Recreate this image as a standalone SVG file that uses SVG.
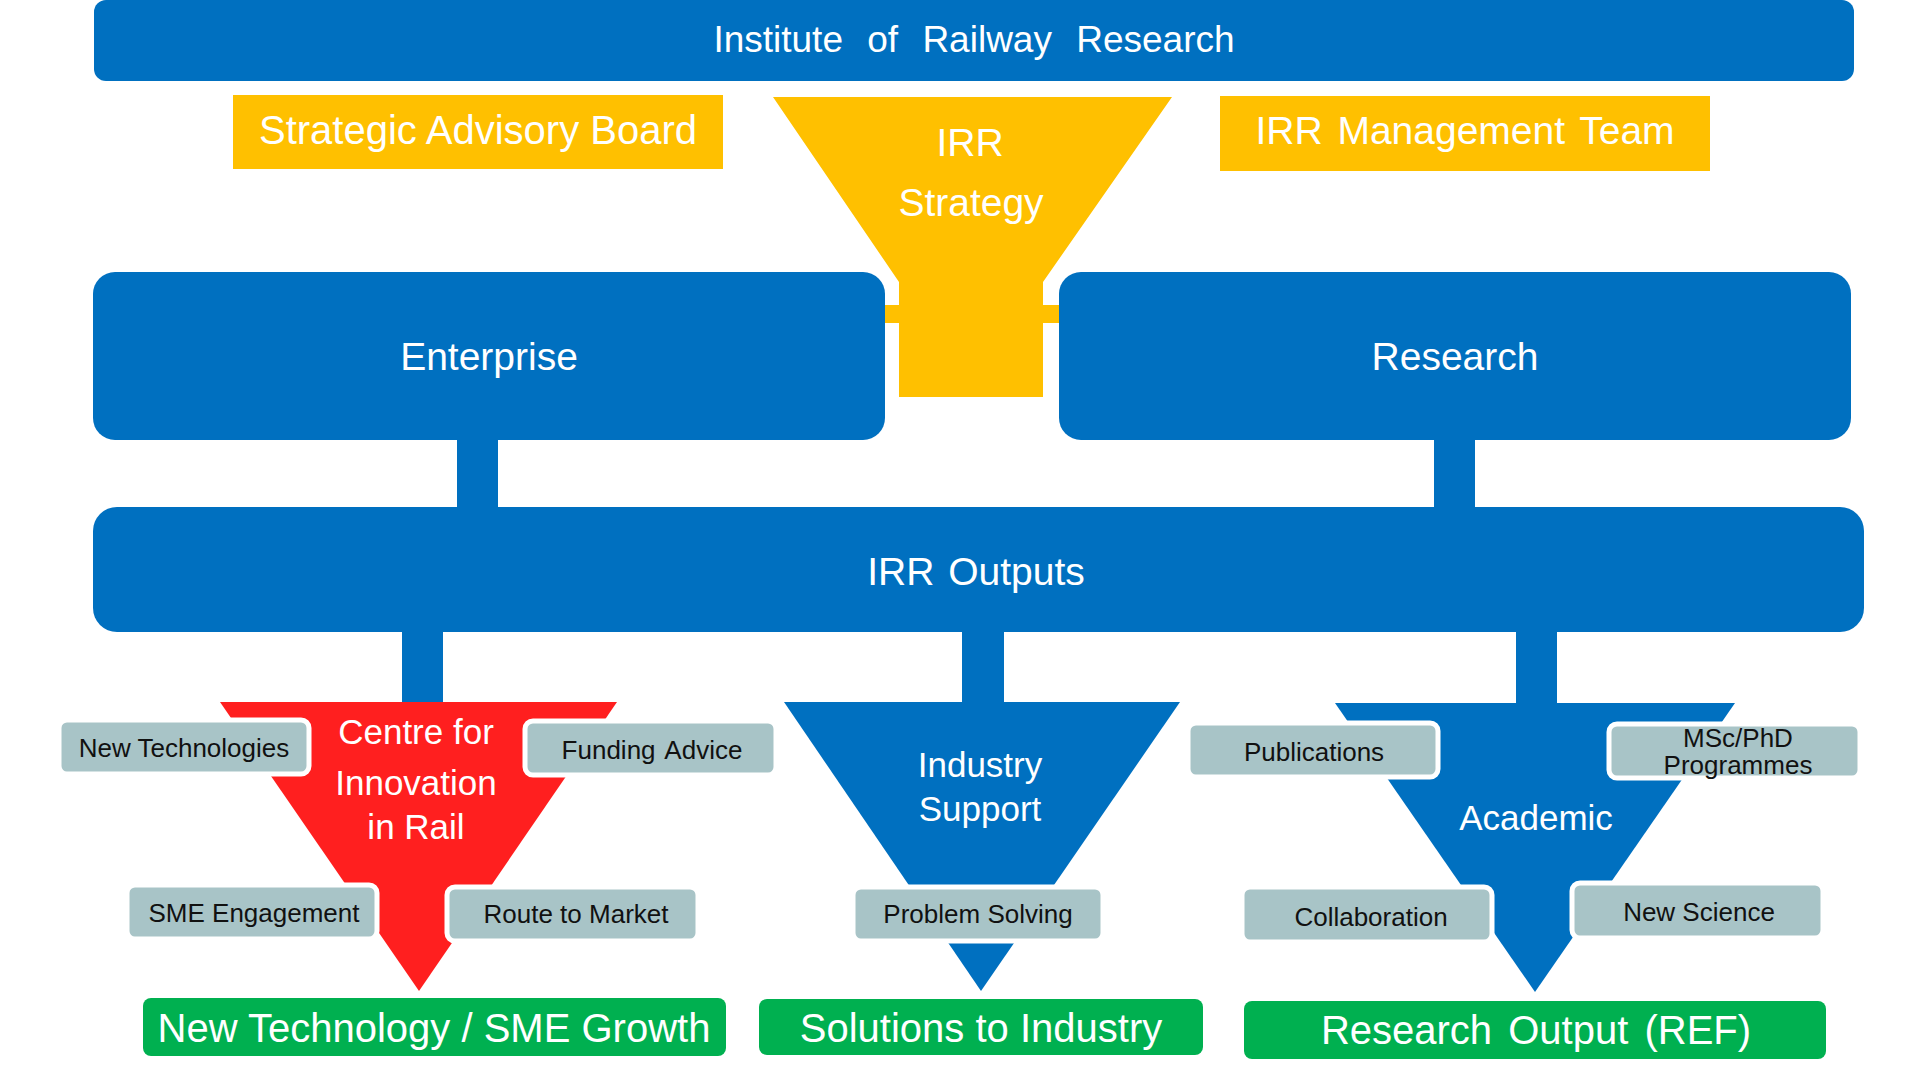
<svg xmlns="http://www.w3.org/2000/svg" width="1920" height="1080" viewBox="0 0 1920 1080">
<style>
.blue{fill:#0070C0}
.yellow{fill:#FFC000}
.red{fill:#FF1F1F}
.green{fill:#00B050}
.tag{fill:#A8C4C7;stroke:#FFFFFF;stroke-width:5}
text{font-family:"Liberation Sans",Arial,sans-serif;text-anchor:middle}
.wt{fill:#FFFFFF}
.tt{fill:#111111;font-size:26px}
.big{font-size:39px}
.mid{font-size:35px}
</style>
<rect width="1920" height="1080" fill="#FFFFFF"/>

<g id="connectors">
  <rect class="yellow" x="870" y="305" width="200" height="18"/>
  <rect class="blue" x="457" y="436" width="41" height="76"/>
  <rect class="blue" x="1434" y="436" width="41" height="76"/>
  <rect class="blue" x="402" y="628" width="41" height="78"/>
  <rect class="blue" x="962" y="628" width="42" height="78"/>
  <rect class="blue" x="1516" y="628" width="41" height="78"/>
</g>

<g id="institute">
  <rect class="blue" x="94" y="0" width="1760" height="81" rx="12"/>
  <text class="wt" x="974" y="52" font-size="37" word-spacing="14">Institute of Railway Research</text>
</g>

<g id="advisory-board">
  <rect class="yellow" x="233" y="95" width="490" height="74"/>
  <text class="wt" x="478" y="144" font-size="40">Strategic Advisory Board</text>
</g>

<g id="management-team">
  <rect class="yellow" x="1220" y="96" width="490" height="75"/>
  <text class="wt" x="1465" y="144" font-size="39" word-spacing="4">IRR Management Team</text>
</g>

<g id="irr-strategy">
  <polygon class="yellow" points="773,97 1172,97 1043,282 1043,397 899,397 899,282"/>
  <text class="wt big" x="970" y="156">IRR</text>
  <text class="wt big" x="971" y="216">Strategy</text>
</g>

<g id="enterprise">
  <rect class="blue" x="93" y="272" width="792" height="168" rx="22"/>
  <text class="wt big" x="489" y="370">Enterprise</text>
</g>

<g id="research">
  <rect class="blue" x="1059" y="272" width="792" height="168" rx="22"/>
  <text class="wt big" x="1455" y="370">Research</text>
</g>

<g id="irr-outputs">
  <rect class="blue" x="93" y="507" width="1771" height="125" rx="24"/>
  <text class="wt big" x="976" y="585" word-spacing="3">IRR Outputs</text>
</g>

<g id="centre-innovation">
  <polygon class="red" points="220,702 617,702 419,991"/>
  <text class="wt mid" x="416" y="744">Centre for</text>
  <text class="wt mid" x="416" y="795">Innovation</text>
  <text class="wt mid" x="416" y="839">in Rail</text>
</g>

<g id="industry-support">
  <polygon class="blue" points="784,702 1180,702 981,991"/>
  <text class="wt mid" x="980" y="777">Industry</text>
  <text class="wt mid" x="980" y="821">Support</text>
</g>

<g id="academic">
  <polygon class="blue" points="1335,703 1735,703 1535,992"/>
  <text class="wt mid" x="1536" y="830">Academic</text>
</g>

<g id="tag-new-technologies">
  <rect class="tag" x="59" y="720" width="250" height="54" rx="8"/>
  <text class="tt" x="184" y="757">New Technologies</text>
</g>
<g id="tag-funding-advice">
  <rect class="tag" x="525" y="721" width="251" height="54" rx="8"/>
  <text class="tt" x="652" y="759" word-spacing="3">Funding Advice</text>
</g>
<g id="tag-sme-engagement">
  <rect class="tag" x="127" y="885" width="250" height="54" rx="8"/>
  <text class="tt" x="254" y="922">SME Engagement</text>
</g>
<g id="tag-route-to-market">
  <rect class="tag" x="447" y="887" width="251" height="54" rx="8"/>
  <text class="tt" x="576" y="923">Route to Market</text>
</g>
<g id="tag-problem-solving">
  <rect class="tag" x="853" y="887" width="250" height="54" rx="8"/>
  <text class="tt" x="978" y="923">Problem Solving</text>
</g>
<g id="tag-publications">
  <rect class="tag" x="1188" y="723" width="250" height="54" rx="8"/>
  <text class="tt" x="1314" y="761">Publications</text>
</g>
<g id="tag-msc-phd">
  <rect class="tag" x="1609" y="724" width="251" height="54" rx="8"/>
  <text class="tt" x="1738" y="747">MSc/PhD</text>
  <text class="tt" x="1738" y="774">Programmes</text>
</g>
<g id="tag-collaboration">
  <rect class="tag" x="1242" y="887" width="250" height="55" rx="8"/>
  <text class="tt" x="1371" y="926">Collaboration</text>
</g>
<g id="tag-new-science">
  <rect class="tag" x="1572" y="883" width="251" height="55" rx="8"/>
  <text class="tt" x="1699" y="921">New Science</text>
</g>

<g id="out-sme-growth">
  <rect class="green" x="143" y="998" width="583" height="58" rx="8"/>
  <text class="wt" x="434" y="1042" font-size="40">New Technology / SME Growth</text>
</g>
<g id="out-solutions">
  <rect class="green" x="759" y="999" width="444" height="56" rx="8"/>
  <text class="wt" x="981" y="1042" font-size="40">Solutions to Industry</text>
</g>
<g id="out-research">
  <rect class="green" x="1244" y="1001" width="582" height="58" rx="8"/>
  <text class="wt" x="1536" y="1044" font-size="40" word-spacing="5">Research Output (REF)</text>
</g>
</svg>
